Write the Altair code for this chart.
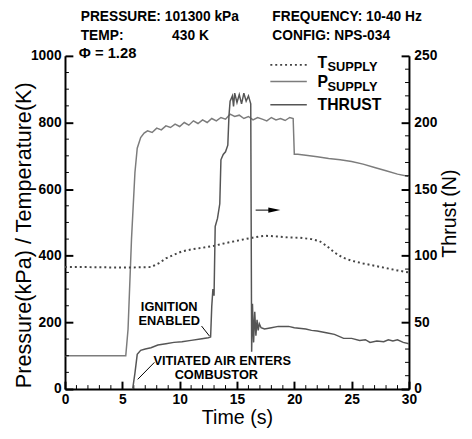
import altair as alt
import pandas as pd

# ---------------- data ----------------
t_supply_time = [0, 2, 4, 6, 7.5, 8.2, 8.8, 9.5, 10.2, 11, 12, 13, 14, 15, 16, 17, 17.5,
                 18.5, 19.5, 20.5, 21.5, 22.2, 22.8, 23.5, 24.2, 25, 26, 27, 28, 29, 30]
t_supply_val = [366, 366, 365, 365, 366, 378, 392, 403, 413, 419, 424, 430, 438, 445, 452, 458, 460,
                458, 455, 454, 450, 444, 430, 410, 395, 385, 377, 370, 363, 356, 350]

p_supply_time = [0, 5.3, 5.5, 5.8, 6.1, 6.3, 6.6, 6.9, 7.2, 7.6, 8.0, 8.4, 8.8, 9.2, 9.6, 10.0,
                 10.4, 10.8, 11.2, 11.6, 12.0, 12.4, 12.8, 13.2, 13.6, 14.0, 14.4, 14.8, 15.2,
                 15.6, 16.0, 16.4, 16.8, 17.2, 17.6, 18.0, 18.4, 18.8, 19.2, 19.6, 19.9, 20.0,
                 20.3, 21, 22, 23, 24, 25, 26, 27, 28, 29, 30]
p_supply_val = [100, 100, 180, 450, 650, 723, 755, 768, 775, 770, 783, 778, 790, 785, 795, 788,
                800, 792, 805, 797, 808, 800, 812, 805, 815, 810, 825, 818, 822, 812, 818, 808,
                815, 810, 805, 815, 808, 812, 806, 815, 812, 705,
                705, 702, 697, 692, 688, 683, 675, 665, 655, 645, 638]

thrust_time = [5.9, 6.1, 6.3, 6.6, 7.0, 7.5, 8.1, 8.8, 9.5, 10.2, 11.0, 11.8, 12.5, 12.7, 12.8,
               12.9, 13.0, 13.1, 13.3, 13.5, 13.6, 13.8, 14.0, 14.2, 14.3, 14.4, 14.6, 14.7,
               14.8, 15.0, 15.2, 15.4, 15.6, 15.8, 16.0, 16.2, 16.28, 16.35, 16.45, 16.55,
               16.65, 16.75, 16.85, 16.95, 17.1, 17.4, 18.0, 18.6, 19.5, 20.0, 21.0, 21.5,
               22.0, 22.9, 23.5, 24.3, 25.0, 25.7, 26.2, 26.6, 27.2, 27.8, 28.2, 28.6, 29.0,
               29.5, 30.0]
thrust_val = [0, 12, 26, 29, 30, 31, 33, 34, 35, 35.5, 36.5, 37.5, 38.5, 39, 62,
              75, 70, 122, 128, 139, 172, 176, 178, 183, 205, 216, 220, 212,
              222, 215, 221, 214, 222, 216, 220, 214, 28, 64, 35, 58,
              40, 52, 44, 49, 46, 45, 46, 47, 47, 46, 45, 44,
              43.5, 42, 41, 38, 38, 36.5, 37, 35, 36, 35.5, 37, 36, 37,
              35, 34]

x_ticks_major = [0, 5, 10, 15, 20, 25, 30]
x_ticks_minor = [1, 2, 3, 4, 6, 7, 8, 9, 11, 12, 13, 14, 16, 17, 18, 19, 21, 22, 23, 24, 26, 27, 28, 29]
left_ticks_major = [0, 200, 400, 600, 800, 1000]
left_ticks_minor = [50, 100, 150, 250, 300, 350, 450, 500, 550, 650, 700, 750, 850, 900, 950]
right_ticks_major = [0, 50, 100, 150, 200, 250]
right_ticks_minor = [10, 20, 30, 40, 60, 70, 80, 90, 110, 120, 130, 140, 160, 170, 180, 190,
                     210, 220, 230, 240]

legend_labels = ["T", "P", "THRUST"]
legend_subs = ["SUPPLY", "SUPPLY", ""]

# ---------------- styling ----------------
FONT = "Liberation Sans"
W, H = 350, 339
X_MAX, YL_MAX, YR_MAX = 30, 1000, 250
P_COLOR = "#7c7c7c"
THR_COLOR = "#555555"
T_COLOR = "#444444"
MAJOR = 8    # px, inward
MINOR = 4    # px, inward

xs = alt.Scale(domain=[0, X_MAX], nice=False)
yl = alt.Scale(domain=[0, YL_MAX], nice=False)
yr = alt.Scale(domain=[0, YR_MAX], nice=False)

inward = alt.ExprRef(expr=str(-MAJOR))

x_axis = alt.Axis(values=x_ticks_major, labelPadding=4 + MAJOR, labelFlush=False, titlePadding=1,
                  title="Time (s)", ticks=True, tickSize=inward)
left_axis = alt.Axis(values=left_ticks_major, labelPadding=4 + MAJOR,
                     title="Pressure(kPa) / Temperature(K)", ticks=True, tickSize=inward,
                     titleFontSize=22, titleAngle=270, titleBaseline="bottom", titleAlign="center",
                     titleX=-30, titleY=182)
right_axis = alt.Axis(values=right_ticks_major, orient="right", labelPadding=5 + MAJOR,
                      title="Thrust (N)", ticks=True, tickSize=inward,
                      titleAngle=270, titleBaseline="top", titleAlign="center",
                      titleX=31, titleY=160)

X = lambda f: alt.X(f, scale=xs, axis=x_axis, title="Time (s)")
YL = lambda f: alt.Y(f, scale=yl, axis=left_axis, title="Pressure(kPa) / Temperature(K)")
YR = lambda f: alt.Y(f, scale=yr, axis=right_axis, title="Thrust (N)")

df_t = pd.DataFrame({"t": t_supply_time, "v": t_supply_val})
df_p = pd.DataFrame({"t": p_supply_time, "v": p_supply_val})
df_thr = pd.DataFrame({"t": thrust_time, "v": thrust_val})

one = pd.DataFrame({"a": [0]})

p_line = alt.Chart(df_p).mark_line(color=P_COLOR, strokeWidth=1.5).encode(x=X("t:Q"), y=YL("v:Q"))
t_line = alt.Chart(df_t).mark_line(color=T_COLOR, strokeWidth=2, strokeDash=[2, 3]).encode(
    x=X("t:Q"), y=YL("v:Q"))
thr_line = alt.Chart(df_thr).mark_line(color=THR_COLOR, strokeWidth=1.5).encode(x=X("t:Q"), y=YR("v:Q"))


# minor inward tick marks, drawn through the scales
def vticks(values, yenc, at, length_px):
    d = X_MAX * length_px / W
    end = at + d if at == 0 else at - d
    df = pd.DataFrame({"mv": values, "ma": [float(at)] * len(values), "mb": [end] * len(values)})
    return alt.Chart(df).mark_rule(color="black", strokeWidth=1).encode(
        y=yenc("mv:Q"), x=X("ma:Q"), x2="mb:Q")


def hticks(values, length_px):
    d = YL_MAX * length_px / H
    df = pd.DataFrame({"mt": values, "ma": [0.0] * len(values), "mb": [d] * len(values)})
    return alt.Chart(df).mark_rule(color="black", strokeWidth=1).encode(
        x=X("mt:Q"), y=YL("ma:Q"), y2="mb:Q")


left_min = vticks(left_ticks_minor, YL, 0, MINOR)
x_min = hticks(x_ticks_minor, MINOR)
right_min = vticks(right_ticks_minor, YR, X_MAX, MINOR)

# annotations (data coordinates)
ann = pd.DataFrame({
    "t": [9.09, 9.09, 13.71, 13.2],
    "v": [233, 192, 72, 30],
    "label": ["IGNITION", "ENABLED", "VITIATED AIR ENTERS", "COMBUSTOR"],
})
ann_text = alt.Chart(ann).mark_text(font=FONT, fontSize=13, fontWeight="bold", color="black",
                                    align="center", baseline="alphabetic").encode(
    x=X("t:Q"), y=YL("v:Q"), text="label:N")

leaders = pd.DataFrame({"t": [11.91, 7.8], "v": [189, 80], "t2": [12.6, 6.34], "v2": [159, 29]})
leader_lines = alt.Chart(leaders).mark_rule(color="black", strokeWidth=1).encode(
    x=X("t:Q"), y=YL("v:Q"), x2="t2:Q", y2="v2:Q")

arrow_df = pd.DataFrame({"t": [16.63], "t2": [18.0], "v": [537], "th": [18.26]})
arrow_line = alt.Chart(arrow_df).mark_rule(color="black", strokeWidth=1).encode(
    x=X("t:Q"), x2="t2:Q", y=YL("v:Q"))
arrow_head = alt.Chart(arrow_df).mark_point(shape="M -1 -0.45 L 1 0 L -1 0.45 Z", filled=True,
                                            color="black", size=150, opacity=1).encode(
    x=X("th:Q"), y=YL("v:Q"))

leg = pd.DataFrame({"t": [17.91] * 3, "t2": [21.09] * 3, "v": [973, 923, 853],
                    "lt": [22.03] * 3, "lv": [965, 906, 838], "st": [22.9] * 3, "sv": [956, 894, 838],
                    "label": legend_labels, "sub": legend_subs})
leg_t = alt.Chart(leg.iloc[[0]]).mark_rule(color=T_COLOR, strokeWidth=2, strokeDash=[2, 3]).encode(
    x=X("t:Q"), x2="t2:Q", y=YL("v:Q"))
leg_p = alt.Chart(leg.iloc[[1]]).mark_rule(color=P_COLOR, strokeWidth=1.5).encode(
    x=X("t:Q"), x2="t2:Q", y=YL("v:Q"))
leg_thr = alt.Chart(leg.iloc[[2]]).mark_rule(color=THR_COLOR, strokeWidth=1.5).encode(
    x=X("t:Q"), x2="t2:Q", y=YL("v:Q"))
leg_label = alt.Chart(leg).mark_text(font=FONT, fontSize=16, fontWeight="bold", color="black",
                                     align="left", baseline="alphabetic").encode(
    x=X("lt:Q"), y=YL("lv:Q"), text="label:N")
leg_sub = alt.Chart(leg.iloc[[0, 1]]).mark_text(font=FONT, fontSize=13, fontWeight="bold",
                                                color="black", align="left",
                                                baseline="alphabetic").encode(
    x=X("st:Q"), y=YL("sv:Q"), text="sub:N")


def header(txt, x, y, size=14):
    return alt.Chart(one).mark_text(font=FONT, fontSize=size, fontWeight="bold", color="black",
                                    align="left", baseline="alphabetic").encode(
        x=alt.value(x), y=alt.value(y), text=alt.value(txt))


headers = [
    header("PRESSURE: 101300 kPa", 16, -35),
    header("TEMP:", 16, -16),
    header("430 K", 109, -16),
    header("\u03a6 = 1.28", 14, 2, 15),
    header("FREQUENCY: 10-40 Hz", 211, -35),
    header("CONFIG: NPS-034", 211, -16),
]

left_layer = alt.layer(p_line, t_line, left_min, x_min, ann_text, leader_lines, arrow_line,
                       arrow_head, leg_t, leg_p, leg_thr, leg_label, leg_sub, *headers)
right_layer = alt.layer(thr_line, right_min)

chart = alt.layer(left_layer, right_layer).resolve_scale(y="independent").properties(
    width=W, height=H,
    autosize=alt.AutoSizeParams(type="none"),
    padding={"left": 58, "top": 45, "right": 56, "bottom": 39},
    background="white",
).configure_view(stroke=None).configure_axis(
    grid=False, format="d", tickColor="black", tickWidth=2,
    labelFont=FONT, labelFontSize=14, labelFontWeight="bold", labelColor="black",
    domainColor="black", domainWidth=2,
    titleFont=FONT, titleFontSize=20, titleFontWeight="normal", titleColor="black",
)

chart.save("out.html", embed_options={"renderer": "svg", "actions": False})
